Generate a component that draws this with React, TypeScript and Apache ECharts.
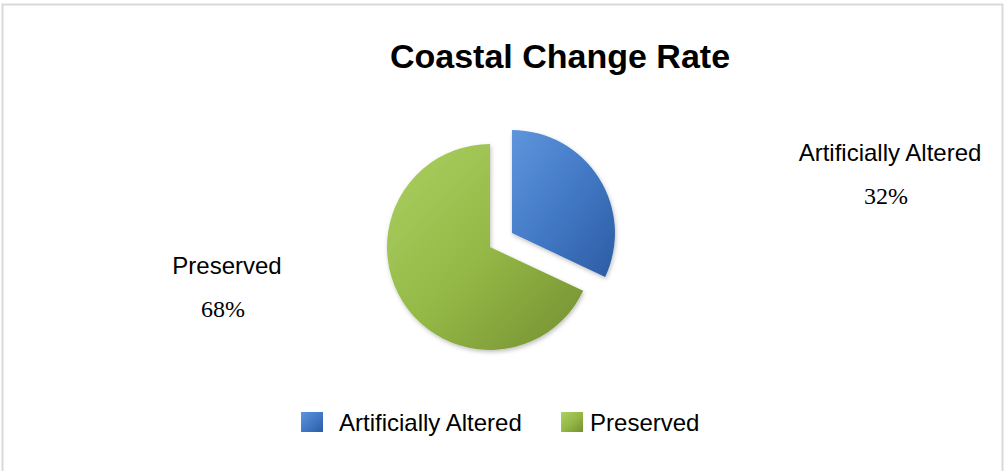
import React, { useEffect, useRef } from "react";
import * as echarts from "echarts";

const categories = ["Artificially Altered", "Preserved"];
const values = [32, 68];
const titleText = "Coastal Change Rate";

const labelSpots = [
  { x: 890, y: 152 },
  { x: 227, y: 265 },
];
const LINE_GAP = 44;
const legendTextPad = [11, 2];

const grad = (a: string, b: string, c: string) =>
  new echarts.graphic.LinearGradient(0, 0, 1, 1, [
    { offset: 0, color: a },
    { offset: 0.5, color: b },
    { offset: 1, color: c },
  ]);

export default function App() {
  const ref = useRef<HTMLDivElement>(null);
  useEffect(() => {
    const chart = echarts.init(ref.current!, undefined, { renderer: "svg" });
    const colors = [
      grad("#5f95db", "#4279c6", "#2c5ca2"),
      grad("#acd062", "#95b947", "#748f30"),
    ];
    const total = values.reduce((a, b) => a + b, 0);
    const labelTexts: any[] = [];
    categories.forEach((name, i) => {
      labelTexts.push({
        type: "text",
        x: labelSpots[i].x,
        y: labelSpots[i].y,
        silent: true,
        style: {
          text: name,
          fontFamily: "Liberation Sans, Arial, sans-serif",
          fontSize: 24,
          fill: "#000",
          align: "center",
          verticalAlign: "middle",
        },
      });
      labelTexts.push({
        type: "text",
        x: labelSpots[i].x - 4,
        y: labelSpots[i].y + LINE_GAP,
        silent: true,
        style: {
          text: `${Math.round((values[i] / total) * 100)}%`,
          fontFamily: "Liberation Serif, Times New Roman, serif",
          fontSize: 24,
          fill: "#000",
          align: "center",
          verticalAlign: "middle",
        },
      });
    });
    chart.setOption({
      animation: false,
      backgroundColor: "#ffffff",
      title: {
        text: titleText,
        left: 555,
        top: 34,
        textAlign: "center",
        textStyle: {
          fontFamily: "Liberation Sans, Arial, sans-serif",
          fontSize: 34,
          fontWeight: "bold",
          color: "#000",
        },
      },
      legend: {
        data: categories.map((name, i) => ({
          name,
          textStyle: { padding: [0, 0, 0, legendTextPad[i]] },
        })),
        left: 296,
        top: 405,
        itemWidth: 22,
        itemHeight: 20,
        itemGap: 38,
        icon: "rect",
        textStyle: {
          fontFamily: "Liberation Sans, Arial, sans-serif",
          fontSize: 24,
          color: "#000",
        },
      },
      graphic: [
        {
          type: "rect",
          shape: { x: 2.5, y: 4.5, width: 1000, height: 470 },
          style: { fill: "none", stroke: "#d9d9d9", lineWidth: 2 },
          silent: true,
        },
        ...labelTexts,
      ],
      series: [
        {
          type: "pie",
          center: [490, 247],
          radius: 103,
          startAngle: 90,
          clockwise: true,
          selectedMode: "single",
          selectedOffset: 26,
          data: categories.map((name, i) => ({
            name,
            value: values[i],
            selected: i === 0,
            itemStyle: {
              color: colors[i],
              shadowBlur: 4,
              shadowColor: "rgba(0,0,0,0.25)",
              shadowOffsetX: 1,
              shadowOffsetY: 2,
            },
          })),
          label: { show: false },
          labelLine: { show: false },
          emphasis: { disabled: true },
        },
      ],
    });
    return () => chart.dispose();
  }, []);
  return (
    <div
      ref={ref}
      style={{ position: "fixed", left: 0, top: 0, width: 1004, height: 471 }}
    />
  );
}
